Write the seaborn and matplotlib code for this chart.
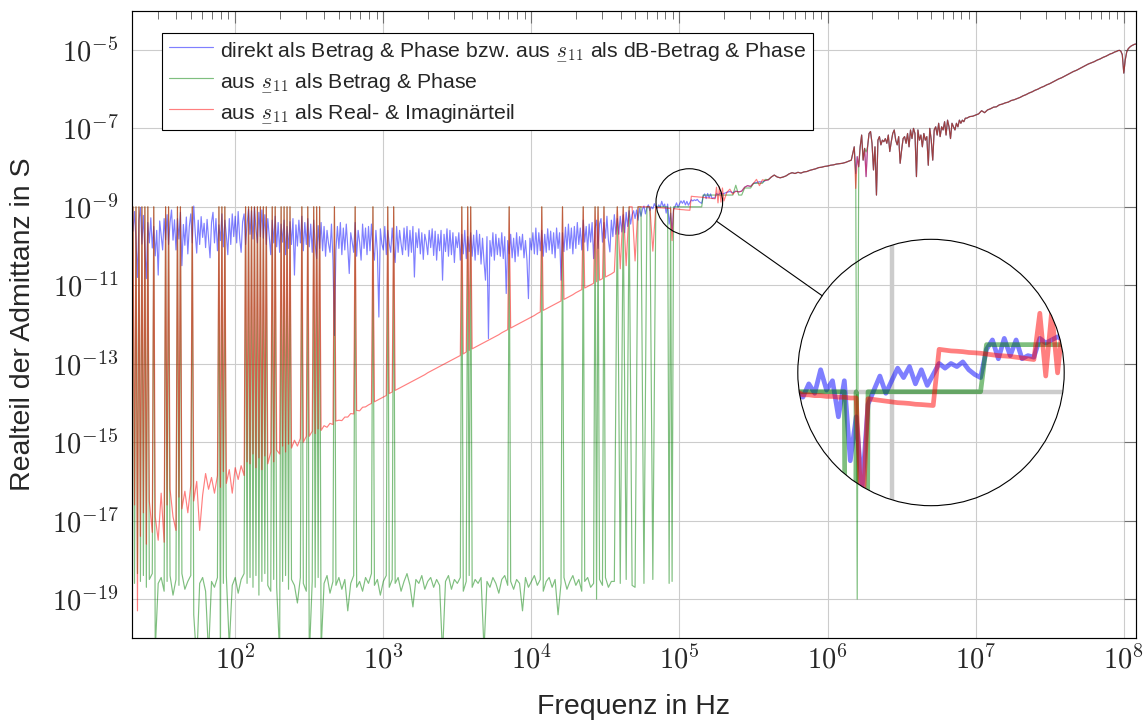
import numpy as np
import pandas as pd
import matplotlib
matplotlib.use("Agg")
import matplotlib.pyplot as plt
import seaborn as sns
from matplotlib.patches import Circle, Ellipse
from matplotlib.lines import Line2D
from matplotlib.ticker import FixedLocator, LogLocator, FuncFormatter, NullFormatter, NullLocator
from matplotlib.mathtext import MathTextParser

# ------------------------------------------------------------------
# Measured real part of the admittance, stored as log10(G / S).
# Each block lives on a logarithmic frequency grid: start = log10(f/Hz),
# step in decades.
# ------------------------------------------------------------------

# direct measurement (magnitude & phase), 20 Hz ... 69 kHz, step 0.01 dec
blue_lo_start, blue_lo_step = 1.30, 0.01
blue_lo = [
    -9.05, -9.62, -9.12, -9.85, -10.80, -9.35, -9.02, -9.95, -9.22, -10.10,
    -10.83, -9.40, -9.92, -9.28, -10.05, -9.50, -10.25, -9.60, -10.74, -9.36,
    -9.72, -10.10, -9.30, -9.84, -9.20, -9.96, -9.40, -9.08, -9.85, -9.33,
    -10.10, -9.30, -9.82, -9.14, -10.50, -9.45, -9.98, -9.26, -10.20, -9.50,
    -9.18, -9.92, -8.98, -9.66, -10.18, -9.34, -9.96, -9.25, -9.78, -9.42,
    -10.04, -9.32, -9.82, -10.30, -9.40, -9.14, -9.92, -9.30, -10.12, -9.46,
    -9.86, -9.18, -10.02, -9.34, -9.72, -10.22, -9.30, -9.96, -9.18, -9.76,
    -9.24, -9.92, -9.12, -9.80, -10.16, -9.38, -9.18, -9.96, -9.44, -9.06,
    -9.70, -9.10, -9.82, -9.02, -9.56, -9.92, -9.14, -9.76, -9.08, -9.80,
    -9.20, -9.96, -9.30, -9.76, -10.22, -9.34, -9.92, -9.24, -10.02, -9.40,
    -10.16, -9.44, -9.90, -9.34, -10.22, -9.50, -10.06, -9.38, -9.96, -9.30,
    -10.74, -9.46, -10.00, -9.34, -9.92, -9.24, -10.12, -9.40, -9.96, -9.30,
    -10.02, -9.44, -10.16, -9.34, -9.96, -10.32, -9.48, -10.06, -9.40, -10.12,
    -9.50, -10.26, -9.60, -9.94, -10.16, -9.44, -10.36, -12.28, -10.10, -9.50,
    -10.06, -9.40, -10.22, -9.54, -10.10, -9.44, -10.02, -10.70, -9.66, -9.90,
    -10.16, -9.40, -10.26, -9.60, -9.90, -10.36, -9.44, -10.06, -9.54, -10.22,
    -9.50, -10.12, -9.44, -10.06, -10.36, -9.60, -10.16, -11.81, -9.56, -9.94,
    -10.10, -9.50, -10.22, -9.60, -9.94, -10.16, -9.54, -10.06, -10.42, -9.50,
    -10.16, -9.60, -9.94, -10.22, -9.54, -10.10, -9.50, -10.26, -9.60, -10.16,
    -9.50, -10.79, -9.66, -10.04, -9.56, -10.20, -9.66, -10.34, -9.70, -9.90,
    -10.22, -9.60, -10.04, -9.56, -10.24, -9.62, -10.36, -9.70, -10.12, -9.60,
    -10.87, -9.70, -10.14, -9.56, -10.26, -9.60, -10.22, -9.66, -10.42, -9.76,
    -10.04, -9.66, -10.36, -9.70, -10.20, -9.60, -10.32, -9.76, -10.14, -9.66,
    -10.26, -9.72, -10.36, -9.60, -10.22, -9.70, -10.46, -9.80, -10.40, -10.87,
    -9.76, -12.36, -9.86, -10.26, -9.66, -10.36, -9.70, -10.22, -9.80, -10.26,
    -9.66, -10.32, -9.76, -11.21, -9.86, -10.20, -9.70, -10.30, -9.80, -10.40,
    -9.66, -10.26, -9.76, -10.10, -9.70, -10.30, -9.86, -10.36, -11.34, -9.80,
    -10.10, -9.66, -10.20, -9.54, -10.22, -9.66, -10.12, -9.60, -10.26, -9.70,
    -10.16, -9.56, -10.10, -9.62, -10.20, -9.66, -10.30, -9.54, -10.06, -9.66,
    -10.87, -9.66, -10.14, -9.52, -10.10, -9.44, -10.06, -9.54, -10.20, -9.50,
    -10.06, -9.40, -9.96, -9.54, -10.10, -9.34, -9.90, -9.50, -10.12, -9.44,
    -9.90, -9.40, -10.32, -9.54, -9.34, -10.06, -9.44, -9.30, -9.90, -9.40,
    -9.80, -9.24, -9.86, -10.15, -9.34, -9.76, -9.20, -9.70, -9.30, -9.70,
    -9.24, -9.64, -9.20, -9.66, -9.14, -9.50, -9.10, -9.44, -9.20, -9.10,
    -9.30, -9.08, -9.34, -9.04, -9.24, -9.06, -8.98, -9.18, -9.02, -8.95,
    -9.10, -9.00, -9.05, -8.92, -9.00,
]

# from s11 (magnitude & phase / real & imaginary part), 20 Hz ... 69 kHz, step 0.02 dec
s11_lo_start, s11_lo_step = 1.30, 0.02
green_lo = [
    -18.45, -18.60, -18.35, -18.55, -18.40, -18.70, -18.50, -18.35, -20.30, -18.60,
    -18.45, -18.80, -18.55, -18.40, -18.90, -18.50, -18.65, -18.35, -18.75, -18.55,
    -18.40, -19.40, -20.60, -18.60, -18.45, -18.80, -20.40, -18.55, -18.70, -18.45,
    -20.60, -18.60, -18.40, -20.20, -18.65, -18.45, -18.85, -18.50, -18.35, -18.60,
    -18.45, -18.70, -18.40, -18.90, -18.55, -18.35, -18.65, -18.80, -18.50, -18.70,
    -20.40, -18.55, -18.40, -18.75, -18.50, -18.65, -19.10, -18.45, -18.60, -18.80,
    -20.50, -18.55, -18.70, -18.45, -20.30, -18.60, -18.40, -18.85, -18.55, -18.65,
    -18.45, -18.75, -18.50, -19.30, -18.60, -18.40, -18.70, -18.55, -18.80, -18.45,
    -18.60, -18.35, -18.65, -18.50, -18.90, -18.55, -18.40, -18.70, -18.50, -18.60,
    -18.45, -18.80, -18.55, -18.35, -18.65, -19.20, -18.50, -18.60, -18.40, -18.75,
    -18.55, -18.45, -18.70, -18.50, -18.65, -20.40, -18.55, -18.40, -18.75, -18.50,
    -18.60, -18.45, -18.80, -18.55, -18.40, -18.70, -18.50, -18.60, -18.45, -20.30,
    -18.55, -18.70, -18.45, -18.60, -18.85, -18.50, -18.40, -18.65, -18.55, -18.75,
    -18.50, -18.60, -19.30, -18.45, -18.70, -18.55, -18.40, -18.65, -18.50, -18.80,
    -18.55, -18.45, -18.70, -18.50, -19.40, -18.60, -18.45, -18.75, -18.55, -18.40,
    -18.65, -18.50, -18.80, -18.55, -18.45, -18.70, -18.60, -19.00, -18.50, -18.65,
    -18.45, -18.70, -18.55, -18.55, -9.00, -18.60, -9.00, -18.50, -9.00, -18.65,
    -18.70, -9.00, -9.00, -18.60, -9.00, -9.00, -18.50, -9.00,
]
red_lo = [
    -17.20, -16.60, -19.30, -17.40, -16.80, -17.60, -16.50, -17.30, -16.90, -17.50,
    -16.30, -17.55, -16.60, -16.20, -16.90, -17.25, -16.40, -16.70, -16.25, -16.80,
    -16.10, -16.50, -16.00, -17.25, -16.35, -15.80, -16.20, -15.90, -16.30, -15.85,
    -16.15, -15.75, -16.05, -15.70, -16.30, -15.65, -15.95, -15.60, -15.85, -15.50,
    -15.55, -15.30, -15.65, -15.40, -15.70, -15.35, -15.55, -15.25, -15.50, -15.20,
    -15.30, -15.10, -15.25, -15.05, -15.15, -14.95, -15.10, -14.90, -15.00, -14.85,
    -14.85, -14.72, -14.78, -14.66, -14.70, -14.58, -14.62, -14.52, -14.55, -14.46,
    -14.44, -14.45, -14.36, -14.36, -14.27, -14.28, -14.19, -14.20, -14.11, -14.10,
    -14.05, -14.01, -13.97, -13.93, -13.89, -13.85, -13.81, -13.76, -13.72, -13.68,
    -13.64, -13.60, -13.56, -13.52, -13.48, -13.44, -13.40, -13.36, -13.32, -13.28,
    -13.23, -13.19, -13.15, -13.11, -13.07, -13.03, -12.99, -12.95, -12.91, -12.87,
    -12.83, -12.79, -12.75, -12.70, -12.66, -12.62, -12.58, -12.54, -12.50, -12.46,
    -12.42, -12.38, -12.34, -12.30, -12.26, -12.21, -12.17, -12.13, -12.09, -12.05,
    -12.01, -11.97, -11.93, -11.89, -11.85, -11.81, -11.77, -11.72, -11.68, -11.64,
    -11.60, -11.56, -11.52, -11.48, -11.44, -11.40, -11.36, -11.32, -11.28, -11.24,
    -11.19, -11.15, -11.11, -11.07, -11.03, -10.99, -10.95, -10.91, -10.87, -10.83,
    -10.79, -10.75, -10.71, -10.66, -9.00, -10.58, -9.00, -10.50, -9.00, -9.00,
    -10.38, -9.00, -9.00, -9.00, -9.00, -9.00, -10.13, -9.00,
]
# single quantisation steps of the s11-derived curves (both green and red)
spike_logf = [
    1.31, 1.33, 1.35, 1.37, 1.39, 1.41, 1.45, 1.53, 1.55, 1.61, 1.63, 1.71,
    1.89, 1.91, 1.93, 2.07, 2.09, 2.11, 2.13, 2.15, 2.17, 2.19, 2.21, 2.25,
    2.27, 2.31, 2.33, 2.35, 2.37, 2.45, 2.49, 2.53, 2.55, 2.57, 2.67, 2.81,
    2.93, 3.03, 3.07, 3.53, 3.57, 3.59, 3.85, 4.07, 4.21, 4.35, 4.43, 4.45, 4.49,
]
spike_top = -9.00

# 71 kHz ... 200 kHz, step 0.01 dec
mid_start, mid_step = 4.85, 0.01
blue_mid = [
    -9.035, -8.95, -9.01, -8.86, -8.99, -8.93, -9.16, -8.93, -9.44, -9.16,
    -9.62, -9.08, -8.99, -8.90, -9.01, -8.93, -8.85, -8.91, -8.84, -8.95,
    -8.86, -8.96, -8.89, -8.82, -8.85, -8.82, -8.84, -8.81, -8.86, -8.89,
    -8.91, -8.73, -8.67, -8.79, -8.66, -8.77, -8.67, -8.79, -8.77, -8.78,
    -8.66, -8.69, -8.67, -8.65, -8.67, -8.66,
]
green_mid = [
    -9.00, -9.00, -9.00, -9.00, -9.00, -9.00, -9.00, -9.00, -18.60, -9.00,
    -18.55, -9.00, -9.00, -9.00, -9.00, -9.00, -9.00, -9.00, -9.00, -9.00,
    -9.00, -9.00, -9.00, -9.00, -9.00, -9.00, -9.00, -9.00, -9.00, -9.00,
    -9.00, -8.70, -8.70, -8.70, -8.70, -8.70, -8.70, -8.70, -8.70, -8.70,
    -8.70, -8.70, -8.70, -8.70, -8.70, -8.70,
]
red_mid = [
    -9.02, -9.02, -9.025, -9.025, -9.03, -9.03, -9.035, -9.035, -9.04, -9.04,
    -9.86, -9.045, -9.05, -9.055, -9.06, -9.065, -9.07, -9.072, -9.075, -9.08,
    -9.082, -9.085, -9.088, -8.73, -8.735, -8.74, -8.742, -8.745, -8.75, -8.752,
    -8.755, -8.76, -8.765, -8.77, -8.772, -8.775, -8.78, -8.785, -8.79, -8.795,
    -8.50, -8.90, -8.49, -8.88, -8.52, -8.85,
]

# 209 kHz ... 1.45 MHz, step 0.02 dec (all three methods agree here)
m2_start, m2_step = 5.32, 0.02
upper_m2 = [
    -8.63, -8.61, -8.64, -8.60, -8.62, -8.60, -8.50, -8.46, -8.48, -8.40,
    -8.38, -8.36, -8.37, -8.33, -8.31, -8.24, -8.19, -8.24, -8.26, -8.24,
    -8.21, -8.16, -8.13, -8.15, -8.12, -8.14, -8.11, -8.10, -8.07, -8.05,
    -8.03, -8.00, -7.99, -7.97, -7.96, -7.94, -7.93, -7.91, -7.90, -7.89,
    -7.87, -7.84, -7.81,
]
green_m2_changes = {5.32: -8.70, 5.34: -8.70, 5.36: -8.70, 5.38: -8.45, 5.40: -8.70,
                    5.42: -8.70, 5.44: -8.52, 5.46: -8.52, 5.48: -8.52, 5.50: -8.40,
                    5.52: -8.40, 5.54: -8.40, 5.56: -8.40, 5.58: -8.30}
red_m2_changes = {5.34: -8.55, 5.36: -8.68, 5.52: -8.30, 5.54: -8.46, 5.56: -8.31}

# 1.48 MHz ... 8.7 MHz, step 0.01 dec (resonance-rich band)
sp_start, sp_step = 6.17, 0.01
upper_sp = [
    -7.64, -7.47, -8.15, -7.72, -7.98, -7.47, -7.17, -7.81, -7.51, -7.60,
    -7.47, -7.13, -7.08, -7.38, -8.06, -7.47, -8.70, -7.30, -7.21, -7.42,
    -7.30, -7.34, -7.26, -7.38, -7.17, -7.59, -7.34, -7.13, -7.04, -7.30,
    -7.42, -7.21, -7.89, -7.55, -7.26, -7.21, -7.38, -7.13, -7.47, -7.04,
    -7.26, -7.00, -7.13, -8.23, -7.04, -7.30, -7.17, -7.47, -7.13, -7.30,
    -7.21, -7.94, -7.00, -7.30, -7.81, -7.04, -6.96, -7.17, -6.87, -7.21,
    -6.96, -7.04, -6.83, -7.17, -6.79, -6.96, -7.26, -6.87, -6.96, -7.04,
    -6.87, -6.96, -6.79, -6.87, -6.79, -6.83, -6.74, -6.74,
]
blue_sp_changes = {6.26: -8.23}
green_sp_changes = {6.20: -19.00}
red_sp_changes = {6.19: -8.53, 6.26: -8.23}

# 9.1 MHz ... 79 MHz, step 0.02 dec
hi_start, hi_step = 6.96, 0.02
upper_hi = [
    -6.70, -6.69, -6.66, -6.63, -6.55, -6.60, -6.53, -6.50, -6.46, -6.45,
    -6.40, -6.38, -6.35, -6.33, -6.29, -6.27, -6.24, -6.21, -6.17, -6.14,
    -6.10, -6.07, -6.03, -6.00, -5.96, -5.93, -5.89, -5.86, -5.82, -5.78,
    -5.74, -5.71, -5.67, -5.63, -5.59, -5.55, -5.52, -5.48, -5.44, -5.40,
    -5.36, -5.33, -5.30, -5.26, -5.23, -5.19, -5.16, -5.12,
]
# 81 MHz ... 120 MHz, step 0.01 dec (series resonance near 100 MHz)
tail_start, tail_step = 7.91, 0.01
upper_tail = [
    -5.10, -5.09, -5.07, -5.05, -5.04, -5.02, -5.01, -5.03, -5.12, -5.59,
    -5.25, -5.05, -4.97, -4.93, -4.90, -4.88, -4.86, -4.85,
]

x_range = (20.0, 1.2e8)
y_range = (1e-20, 1e-4)
x_major = [1e2, 1e3, 1e4, 1e5, 1e6, 1e7, 1e8]
y_major = [1e-19, 1e-17, 1e-15, 1e-13, 1e-11, 1e-9, 1e-7, 1e-5]

# ------------------------------------------------------------------
def segment(start, step, values):
    v = np.asarray(values, float)
    return start + step * np.arange(v.size), v


def changed(start, step, values, changes):
    f, v = segment(start, step, values)
    v = v.copy()
    for lf, val in changes.items():
        v[int(round((lf - start) / step))] = val
    return f, v


def join(*parts):
    f = np.concatenate([p[0] for p in parts])
    v = np.concatenate([p[1] for p in parts])
    order = np.argsort(f, kind="stable")
    return pd.DataFrame({"f": 10.0 ** f[order], "G": 10.0 ** v[order]})


spikes = (np.asarray(spike_logf, float), np.full(len(spike_logf), spike_top))

blue = join(segment(blue_lo_start, blue_lo_step, blue_lo),
            segment(mid_start, mid_step, blue_mid),
            segment(m2_start, m2_step, upper_m2),
            changed(sp_start, sp_step, upper_sp, blue_sp_changes),
            segment(hi_start, hi_step, upper_hi),
            segment(tail_start, tail_step, upper_tail))
green = join(segment(s11_lo_start, s11_lo_step, green_lo), spikes,
             segment(mid_start, mid_step, green_mid),
             changed(m2_start, m2_step, upper_m2, green_m2_changes),
             changed(sp_start, sp_step, upper_sp, green_sp_changes),
             segment(hi_start, hi_step, upper_hi),
             segment(tail_start, tail_step, upper_tail))
red = join(segment(s11_lo_start, s11_lo_step, red_lo), spikes,
           segment(mid_start, mid_step, red_mid),
           changed(m2_start, m2_step, upper_m2, red_m2_changes),
           changed(sp_start, sp_step, upper_sp, red_sp_changes),
           segment(hi_start, hi_step, upper_hi),
           segment(tail_start, tail_step, upper_tail))

# ------------------------------------------------------------------
sns.set_theme(style="white")
plt.rcParams["font.family"] = ["Liberation Sans", "DejaVu Sans"]
plt.rcParams["mathtext.fontset"] = "cm"


def mathtext_ok(expr):
    try:
        MathTextParser("path").parse(expr)
        return True
    except Exception:
        return False


# underlined complex quantity s11
S11 = r"$s_{11}$"
for cand in (r"$\underline{s}_{11}$", r"$\underset{-}{s}_{11}$"):
    if mathtext_ok(cand):
        S11 = cand
        break

labels = [
    "direkt als Betrag & Phase bzw. aus " + S11 + " als dB-Betrag & Phase",
    "aus " + S11 + " als Betrag & Phase",
    "aus " + S11 + " als Real- & Imaginärteil",
]
colors = ["#0000ff", "#008000", "#ff0000"]
LW = 0.85
GRID = "#cccccc"
GRID_LW = 0.8

W, H = 1148, 722
fig = plt.figure(figsize=(W / 100, H / 100), dpi=100)
ax = fig.add_axes([131.7 / W, 1 - 638.3 / H, (1135.5 - 131.7) / W, (638.3 - 10.7) / H])
ax.set_xscale("log")
ax.set_yscale("log")

for df, col in zip([blue, green, red], colors):
    sns.lineplot(data=df, x="f", y="G", ax=ax, color=col, alpha=0.5, linewidth=LW,
                 estimator=None, sort=False, errorbar=None, legend=False)

ax.set_xlim(*x_range)
ax.set_ylim(*y_range)


def pow10(v, pos=None):
    return r"$10^{%d}$" % int(round(np.log10(v)))


ax.xaxis.set_major_locator(FixedLocator(x_major))
ax.xaxis.set_major_formatter(FuncFormatter(pow10))
ax.xaxis.set_minor_locator(LogLocator(base=10, subs=np.arange(2, 10), numticks=60))
ax.xaxis.set_minor_formatter(NullFormatter())
ax.yaxis.set_major_locator(FixedLocator(y_major))
ax.yaxis.set_major_formatter(FuncFormatter(pow10))
ax.yaxis.set_minor_locator(NullLocator())

ax.tick_params(which="both", direction="in", top=True, right=True, color="#707070")
ax.tick_params(which="major", length=8.4, width=0.8, labelsize=20.5)
ax.tick_params(which="minor", length=5.5, width=0.7)
ax.tick_params(axis="x", which="major", pad=5)
ax.tick_params(axis="y", which="major", pad=9.5)

ax.grid(True, which="major", color=GRID, linewidth=GRID_LW)
ax.set_axisbelow(True)
for sp in ax.spines.values():
    sp.set_color("black")
    sp.set_linewidth(0.85)

ax.set_xlabel("Frequenz in Hz", fontsize=20.5, labelpad=14)
ax.set_ylabel("Realteil der Admittanz in S", fontsize=20.5, labelpad=11)

handles = [Line2D([], [], color=c, alpha=0.5, lw=LW) for c in colors]
leg = ax.legend(handles, labels, loc="upper left",
                bbox_to_anchor=(162 / W, 1 - 32.5 / H), bbox_transform=fig.transFigure,
                borderaxespad=0, fontsize=15.3, frameon=True, fancybox=False,
                framealpha=1, edgecolor="black", handlelength=2.1,
                handletextpad=0.3, borderpad=0.32, labelspacing=0.42)
leg.get_frame().set_linewidth(0.8)

# ---- magnifying lens around 100 kHz ----
spy_center = (10 ** 5.0663, 10 ** -8.8776)
spy_r = 33.3          # radius of the marked region, px
spy_zoom = 4.0
lens_c = np.array([931.0, H - 372.5])   # lens centre, px from lower left

c = ax.transData.transform(spy_center)
inv = ax.transData.inverted()
x0, y0 = inv.transform((c[0] - spy_r, c[1] - spy_r))
x1, y1 = inv.transform((c[0] + spy_r, c[1] + spy_r))
R = spy_r * spy_zoom

axins = fig.add_axes([(lens_c[0] - R) / W, (lens_c[1] - R) / H, 2 * R / W, 2 * R / H])
axins.set_xscale("log")
axins.set_yscale("log")
axins.axvline(1e5, color=GRID, lw=GRID_LW * spy_zoom, zorder=0.5)
axins.axhline(1e-9, color=GRID, lw=GRID_LW * spy_zoom, zorder=0.5)
for df, col in zip([blue, green, red], colors):
    sns.lineplot(data=df, x="f", y="G", ax=axins, color=col, alpha=0.5,
                 linewidth=LW * spy_zoom, estimator=None, sort=False,
                 errorbar=None, legend=False)
lens_clip = Circle((0.5, 0.5), 0.5, transform=axins.transAxes)
for ln in axins.lines:
    ln.set_clip_path(lens_clip)
axins.add_patch(Circle((0.5, 0.5), 0.5, transform=axins.transAxes, fill=False,
                       ec="black", lw=0.8, clip_on=False, zorder=10))
axins.set_xlim(x0, x1)
axins.set_ylim(y0, y1)
axins.set_axis_off()

fig.add_artist(Ellipse((c[0] / W, c[1] / H), 2 * spy_r / W, 2 * spy_r / H,
                       transform=fig.transFigure, fill=False, ec="black", lw=0.8, zorder=5))
d = lens_c - c
d = d / np.hypot(*d)
p1 = c + spy_r * d
p2 = lens_c - R * d
fig.add_artist(Line2D([p1[0] / W, p2[0] / W], [p1[1] / H, p2[1] / H],
                      transform=fig.transFigure, color="black", lw=0.8))

fig.savefig("out.png", dpi=100)
